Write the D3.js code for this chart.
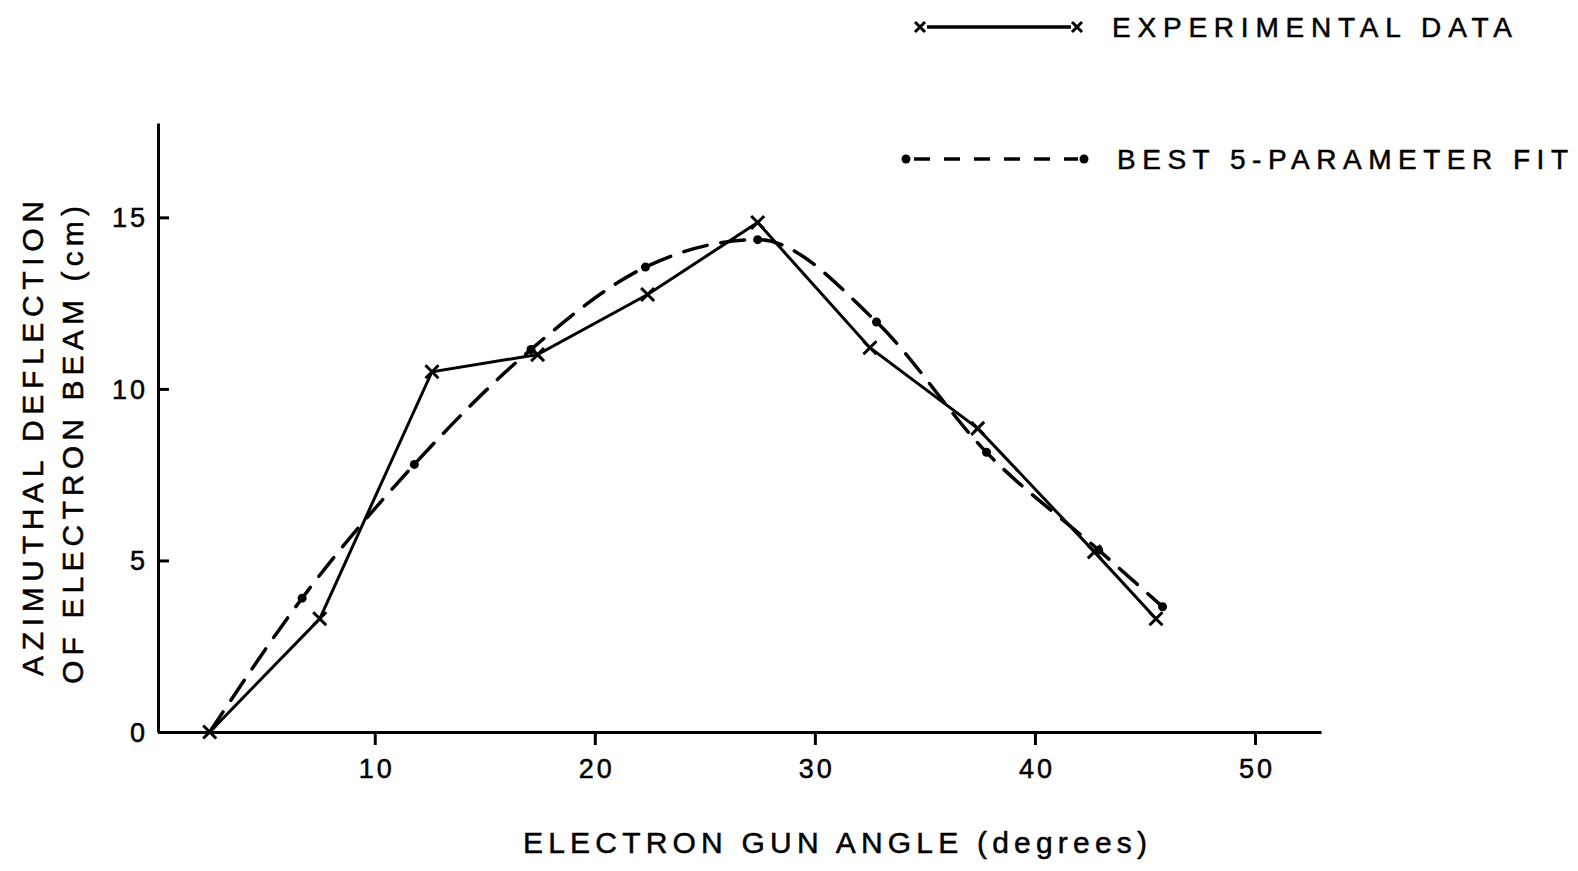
<!DOCTYPE html>
<html>
<head>
<meta charset="utf-8">
<script src="https://cdn.jsdelivr.net/npm/d3@7"></script>
<style>
  body { margin: 0; background: #fff; }
  svg { display: block; font-family: "Liberation Sans", Arial, sans-serif; }
  text { fill: #000; stroke: #000; stroke-width: 0.5px; }
</style>
</head>
<body>
<div id="chart"></div>
<script>
"use strict";

// données
const expAngle = [2.5, 7.5, 12.6, 17.4, 22.4, 27.4, 32.5, 37.4, 42.7, 45.5];
const expDeflection = [0, 3.3, 10.5, 11.0, 12.75, 14.85, 11.2, 8.85, 5.25, 3.3];
const fitAngle = [2.5, 6.7, 11.8, 17.1, 22.3, 27.4, 32.8, 37.8, 42.9, 45.8];
const fitDeflection = [0, 3.9, 7.8, 11.15, 13.55, 14.35, 11.95, 8.15, 5.3, 3.65];
const xTicks = [10, 20, 30, 40, 50];
const yTicks = [0, 5, 10, 15];

const width = 1578;
const height = 871;

const svg = d3
  .select("#chart")
  .append("svg")
  .attr("width", width)
  .attr("height", height);

const x = d3.scaleLinear().domain([0.15, 53]).range([158, 1321]);
const y = d3.scaleLinear().domain([0, 17.75]).range([732, 123]);

const expData = expAngle.map((a, i) => ({ x: a, y: expDeflection[i] }));
const fitData = fitAngle.map((a, i) => ({ x: a, y: fitDeflection[i] }));

// axe x
const xAxis = svg
  .append("g")
  .attr("transform", `translate(0, ${y(0)})`)
  .call(d3.axisBottom(x).tickValues(xTicks).tickSize(13).tickSizeOuter(0).tickPadding(9));

// axe y (ticks vers l'intérieur)
const yAxis = svg
  .append("g")
  .attr("transform", `translate(${x(0.15)}, 0)`)
  .call(d3.axisRight(y).tickValues(yTicks).tickSize(11).tickSizeOuter(0));

[xAxis, yAxis].forEach((g) => {
  g.select(".domain").attr("stroke", "#000").attr("stroke-width", 3);
  g.selectAll(".tick line").attr("stroke", "#000").attr("stroke-width", 3);
  g.selectAll(".tick text")
    .attr("fill", "#000")
    .style("font-size", "27px")
    .style("letter-spacing", "3px");
});

xAxis.selectAll(".tick text").attr("dy", "0.9em").attr("dx", "1.5px");
yAxis
  .selectAll(".tick text")
  .attr("x", -10)
  .attr("dy", "0.35em")
  .attr("text-anchor", "end");

// courbe ajustée (tirets)
const fitLine = d3
  .line()
  .x((d) => x(d.x))
  .y((d) => y(d.y))
  .curve(d3.curveMonotoneX);

svg
  .append("path")
  .datum(fitData)
  .attr("d", fitLine)
  .attr("fill", "none")
  .attr("stroke", "#000")
  .attr("stroke-width", 3.5)
  .attr("stroke-dasharray", "24,14")
  .attr("stroke-linecap", "round");

svg
  .append("g")
  .selectAll("circle")
  .data(fitData.slice(1))
  .join("circle")
  .attr("cx", (d) => x(d.x))
  .attr("cy", (d) => y(d.y))
  .attr("r", 4.5)
  .attr("fill", "#000");

// données expérimentales (trait plein)
const expLine = d3
  .line()
  .x((d) => x(d.x))
  .y((d) => y(d.y));

svg
  .append("path")
  .datum(expData)
  .attr("d", expLine)
  .attr("fill", "none")
  .attr("stroke", "#000")
  .attr("stroke-width", 3);

function cross(g, cx, cy, s) {
  g.append("path")
    .attr("d", `M${cx - s},${cy - s}L${cx + s},${cy + s}M${cx - s},${cy + s}L${cx + s},${cy - s}`)
    .attr("stroke", "#000")
    .attr("stroke-width", 3)
    .attr("fill", "none");
}

const crosses = svg.append("g");
expData.forEach((d) => cross(crosses, x(d.x), y(d.y), 6.5));

// titres des axes
svg
  .append("text")
  .attr("x", 523)
  .attr("y", 853)
  .attr("textLength", 624)
  .attr("lengthAdjust", "spacing")
  .style("font-size", "30px")
  .text("ELECTRON GUN ANGLE (degrees)");

svg
  .append("text")
  .attr("transform", "translate(43, 676) rotate(-90)")
  .attr("textLength", 475)
  .attr("lengthAdjust", "spacing")
  .style("font-size", "30px")
  .text("AZIMUTHAL DEFLECTION");

svg
  .append("text")
  .attr("transform", "translate(83, 684) rotate(-90)")
  .attr("textLength", 478)
  .attr("lengthAdjust", "spacing")
  .style("font-size", "30px")
  .text("OF ELECTRON BEAM (cm)");

// légende
const legend = svg.append("g");

legend
  .append("line")
  .attr("x1", 927)
  .attr("x2", 1071)
  .attr("y1", 27)
  .attr("y2", 27)
  .attr("stroke", "#000")
  .attr("stroke-width", 3.5);
cross(legend, 920, 27, 5);
cross(legend, 1077, 27, 5);
legend
  .append("text")
  .attr("x", 1112)
  .attr("y", 37)
  .attr("textLength", 400)
  .attr("lengthAdjust", "spacing")
  .style("font-size", "28px")
  .text("EXPERIMENTAL DATA");

legend
  .append("line")
  .attr("x1", 914)
  .attr("x2", 1078)
  .attr("y1", 159)
  .attr("y2", 159)
  .attr("stroke", "#000")
  .attr("stroke-width", 3.5)
  .attr("stroke-dasharray", "16,14");
legend
  .selectAll(".ldot")
  .data([906, 1084])
  .join("circle")
  .attr("cx", (d) => d)
  .attr("cy", 159)
  .attr("r", 4.5)
  .attr("fill", "#000");
legend
  .append("text")
  .attr("x", 1117)
  .attr("y", 169)
  .attr("textLength", 451)
  .attr("lengthAdjust", "spacing")
  .style("font-size", "28px")
  .text("BEST 5-PARAMETER FIT");
</script>
</body>
</html>
